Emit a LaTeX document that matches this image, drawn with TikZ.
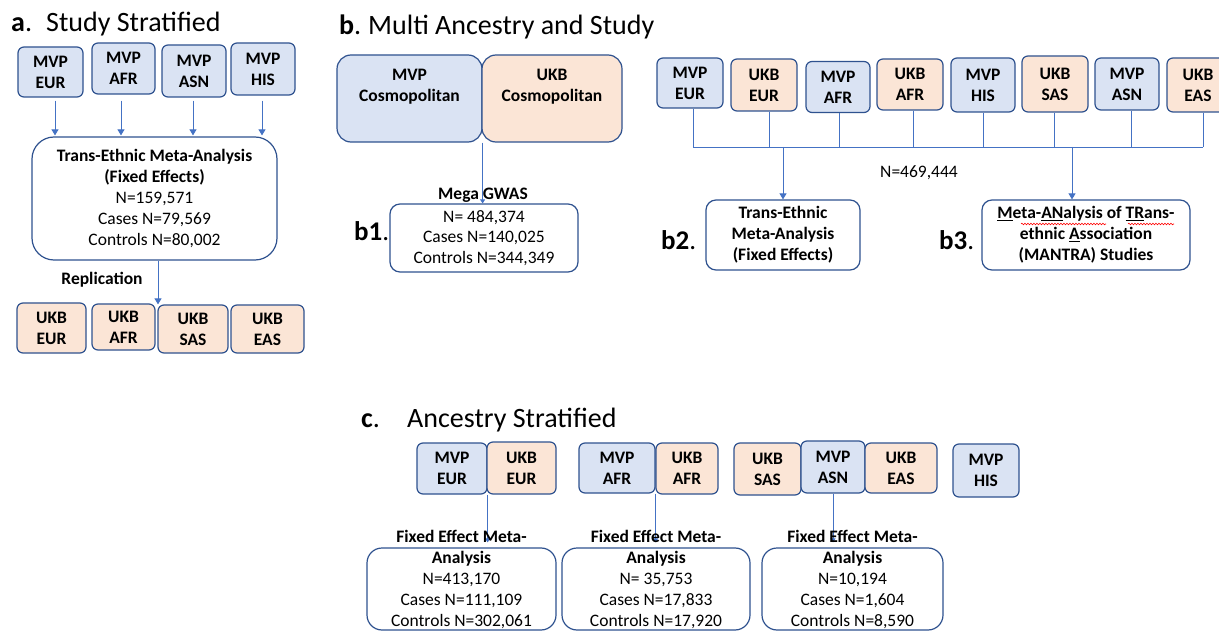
\documentclass[tikz,border=0pt]{standalone}
\usepackage{fontspec}
\setmainfont{Carlito}
\usetikzlibrary{arrows.meta,decorations.pathmorphing}
\definecolor{mvpfill}{HTML}{DAE3F3}
\definecolor{ukbfill}{HTML}{FBE5D6}
\definecolor{bdr}{HTML}{2F528F}
\definecolor{arrc}{HTML}{4472C4}
\newcommand\fsbox{\fontsize{17.5}{21}\selectfont}
\newcommand\fstitle{\fontsize{28}{32}\selectfont}
\newcommand\fslab{\fontsize{27}{30}\selectfont\bfseries}
\begin{document}
\begin{tikzpicture}[x=1pt,y=-1pt,
  every node/.style={font=\fsbox},
  sz/.style 2 args={minimum width=#1pt, minimum height=#2pt},
  box/.style={draw=bdr, line width=1.2pt, rounded corners=6pt, align=center, inner sep=0pt, font=\fsbox\bfseries},
  mvp/.style={box, fill=mvpfill},
  ukb/.style={box, fill=ukbfill},
  big/.style={draw=bdr, line width=1.2pt, fill=white, align=center, inner sep=0pt},
  arr/.style={draw=arrc, line width=0.9pt, -{Triangle[width=7pt,length=6pt]}},
  arrthin/.style={draw=arrc, line width=0.8pt, -{Triangle[width=5pt,length=4pt]}},
  ln/.style={draw=arrc, line width=0.8pt},
  squig/.style={draw=red, line width=0.6pt, decorate, decoration={snake, amplitude=0.8pt, segment length=3pt}},
  ttl/.style={anchor=base west, inner sep=0pt, font=\fstitle},
  lab/.style={anchor=base west, inner sep=0pt, font=\fslab}
]
\useasboundingbox (0,0) rectangle (1219,631);
\fill[white] (0,0) rectangle (1219,631);

% ---------------- panel a ----------------
\node[ttl] (ta1) at (11,32) {\textbf{a}.};
\node[ttl] (ta2) at (46,32) {Study Stratified};
\node[mvp, sz={65}{50}] (a1) at (50.5,72) {MVP\\EUR};
\node[mvp, sz={63}{51}] (a2) at (123.5,68.5) {MVP\\AFR};
\node[mvp, sz={64}{52}] (a3) at (194,71) {MVP\\ASN};
\node[mvp, sz={64}{52}] (a4) at (263,69) {MVP\\HIS};
\node[big, rounded corners=22pt, sz={245}{123}] (tam) at (154.5,198.5)
  {\textbf{Trans-Ethnic Meta-Analysis}\\\textbf{(Fixed Effects)}\\N=159,571\\Cases N=79,569\\Controls N=80,002};
\draw[arr, shorten <=3pt, shorten >=1pt] ([xshift=4.5pt]a1.south) -- ([xshift=4.5pt]a1.south |- tam.north);
\draw[arr, shorten <=6pt, shorten >=1pt] ([xshift=-2.5pt]a2.south) -- ([xshift=-2.5pt]a2.south |- tam.north);
\draw[arr, shorten <=3pt, shorten >=1pt] ([xshift=-1pt]a3.south) -- ([xshift=-1pt]a3.south |- tam.north);
\draw[arr, shorten <=5pt, shorten >=1pt] ([xshift=-1pt]a4.south) -- ([xshift=-1pt]a4.south |- tam.north);
\node[font=\fsbox\bfseries] (repl) at (102,280) {Replication};
\node[ukb, sz={69}{50}] (r1) at (51.5,328) {UKB\\EUR};
\node[ukb, sz={63}{46}] (r2) at (123.5,327) {UKB\\AFR};
\node[ukb, sz={70}{48}] (r3) at (193,329) {UKB\\SAS};
\node[ukb, sz={73}{48}] (r4) at (267.5,329) {UKB\\EAS};
\draw[arr] ([xshift=3.5pt]tam.south) -- ([xshift=3.5pt]tam.south |- r3.north);

% ---------------- panel b ----------------
\node[ttl] (tb1) at (339,35) {\textbf{b}.};
\node[ttl] (tb2) at (368,35) {Multi Ancestry and Study};
\node[box, fill=mvpfill, rounded corners=14pt, sz={145}{87},
  label={[align=center, font=\fsbox\bfseries, yshift=12pt]center:{MVP\\Cosmopolitan}}] (mc) at (409.5,98.5) {};
\node[box, fill=ukbfill, rounded corners=14pt, sz={140}{87},
  label={[align=center, font=\fsbox\bfseries, yshift=12pt]center:{UKB\\Cosmopolitan}}] (uc) at (552,98.5) {};
\node[big, rounded corners=10pt, sz={188}{68}, font=\fontsize{17.5}{20.5}\selectfont] (b1) at (484,238)
  {N= 484,374\\Cases N=140,025\\Controls N=344,349};
\draw[arrthin] (mc.south east) -- (mc.south east |- b1.north);
\node[font=\fsbox\bfseries, inner sep=0pt] (mg) at (483,195) {Mega GWAS};
\node[lab] (lb1) at (354,241) {b1\textmd{.}};

\node[mvp, sz={66}{50}] (bm1) at (690,83) {MVP\\EUR};
\node[ukb, sz={66}{52}] (bu1) at (764,85) {UKB\\EUR};
\node[mvp, sz={64}{51}] (bm2) at (838,87) {MVP\\AFR};
\node[ukb, sz={66}{51}] (bu2) at (910,84.5) {UKB\\AFR};
\node[mvp, sz={64}{54}] (bm3) at (983,85) {MVP\\HIS};
\node[ukb, sz={66}{56}] (bu3) at (1055,84) {UKB\\SAS};
\node[mvp, sz={64}{52}] (bm4) at (1127,84) {MVP\\ASN};
\node[ukb, sz={62}{54}] (bu4) at (1198,85) {UKB\\EAS};
\coordinate (hl) at (693,147);
\coordinate (hr) at (1203,147);
\coordinate (d3) at (1072,147);
\draw[ln] (hl) -- (hr);
\foreach \n/\dx in {bm1/3,bu1/5,bm2/1,bu2/3,bm3/0,bu3/-1,bm4/4,bu4/5}{
  \draw[ln] ([xshift=\dx pt]\n.south) -- ([xshift=\dx pt]\n.south |- hl);
}
\node[big, rounded corners=10pt, sz={154}{70}, font=\fsbox\bfseries] (b2) at (783,235)
  {Trans-Ethnic\\Meta-Analysis\\(Fixed Effects)};
\node[big, rounded corners=10pt, sz={208}{70}, font=\fsbox\bfseries] (b3) at (1086,235)
  {\underline{M}eta-\underline{AN}alysis of \underline{TR}ans-\\ethnic \underline{A}ssociation\\(MANTRA) Studies};
\draw[squig] (1021,224) -- (1106,224);
\draw[squig] (1128,224) -- (1174,224);
\draw[arr] (b2.north |- hl) -- (b2.north);
\draw[arr] (d3) -- (d3 |- b3.north);
\node (nn) at (919,173) {N=469,444};
\node[lab] (lb2) at (661,250) {b2\textmd{.}};
\node[lab] (lb3) at (939,250) {b3\textmd{.}};

% ---------------- panel c ----------------
\node[ttl] (tc1) at (361,427) {\textbf{c}.};
\node[ttl] (tc2) at (407,427) {Ancestry Stratified};
\node[mvp, sz={70}{51}] (cm1) at (452,468.5) {MVP\\EUR};
\node[ukb, sz={69}{52}] (cu1) at (521.5,468) {UKB\\EUR};
\node[mvp, sz={76}{50}] (cm2) at (617,468) {MVP\\AFR};
\node[ukb, sz={62}{51}] (cu2) at (687,468.5) {UKB\\AFR};
\node[ukb, sz={67}{52}] (cu3) at (767.5,469) {UKB\\SAS};
\node[mvp, sz={64}{52}] (cm4) at (833,467) {MVP\\ASN};
\node[ukb, sz={72}{50}] (cu4) at (901,468) {UKB\\EAS};
\node[mvp, sz={66}{53}] (cm3) at (986,470.5) {MVP\\HIS};
\node[big, rounded corners=15pt, sz={189}{82}] (f1) at (461.5,589) {};
\node[big, rounded corners=15pt, sz={188}{82}] (f2) at (656,589) {};
\node[big, rounded corners=15pt, sz={181}{82}] (f3) at (852.5,589) {};
\draw[arrthin, shorten >=5pt] (cm1.south east) -- (cm1.south east |- f1.north);
\draw[arrthin, shorten >=5pt] (cm2.south east) -- (cm2.south east |- f2.north);
\draw[arrthin, shorten >=5pt] (cm4.south) -- (cm4.south |- f3.north);
\node[align=center, inner sep=0pt] (ft1) at (461.5,579)
  {\textbf{Fixed Effect Meta-}\\\textbf{Analysis}\\N=413,170\\Cases N=111,109\\Controls N=302,061};
\node[align=center, inner sep=0pt] (ft2) at (656,579)
  {\textbf{Fixed Effect Meta-}\\\textbf{Analysis}\\N= 35,753\\Cases N=17,833\\Controls N=17,920};
\node[align=center, inner sep=0pt] (ft3) at (852.5,579)
  {\textbf{Fixed Effect Meta-}\\\textbf{Analysis}\\N=10,194\\Cases N=1,604\\Controls N=8,590};
\end{tikzpicture}
\end{document}
